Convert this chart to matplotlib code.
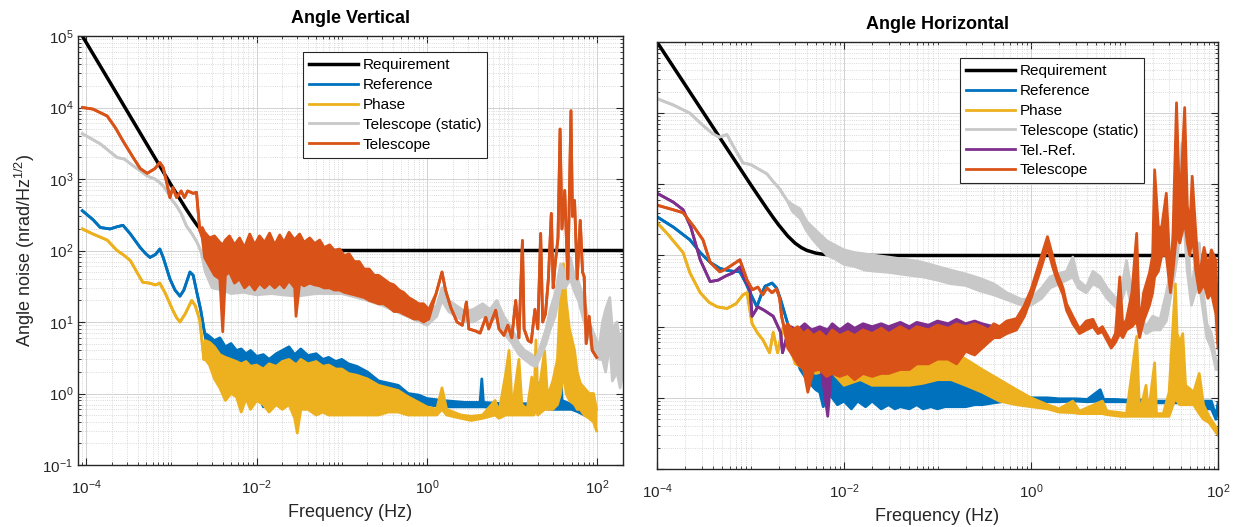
import numpy as np
import matplotlib
matplotlib.use('Agg')
import matplotlib.pyplot as plt
from matplotlib.ticker import LogLocator, NullFormatter, LogFormatterSciNotation

plt.rcParams['font.family'] = ['Liberation Sans', 'DejaVu Sans']
plt.rcParams['mathtext.fontset'] = 'custom'
plt.rcParams['mathtext.rm'] = 'Liberation Sans'
plt.rcParams['mathtext.it'] = 'Liberation Sans:italic'

# MATLAB default colours
c_req = 'black'
c_ref = '#0072BD'
c_pha = '#EDB120'
c_sta = '#C8C8C8'
c_trf = '#7E2F8E'
c_tel = '#D95319'

# ---------------- Angle Vertical ----------------
reqV_f = [9e-5, 2e-4, 5e-4, 1e-3, 1.25e-3, 1.5e-3, 1.75e-3, 2e-3, 2.5e-3, 3e-3, 3.5e-3, 4e-3, 5e-3, 6e-3, 7e-3, 1e-2, 200]
reqV_v = [1e5, 2.03e4, 3.24e3, 810, 529, 374, 283, 226, 164, 135, 120, 112, 105, 102.5, 101, 100, 100]

# rows: frequency (Hz), upper, lower
refV = [
    [9e-5, 360, 360], [1.2e-4, 270, 270], [1.46e-4, 210, 210], [1.9e-4, 200, 200],
    [2.3e-4, 215, 215], [2.7e-4, 225, 225], [3.3e-4, 170, 170], [4.3e-4, 110, 110],
    [5e-4, 90, 90], [5.6e-4, 80, 80], [6.5e-4, 88, 88], [7.3e-4, 105, 105],
    [8e-4, 80, 80], [9.6e-4, 40, 40], [1.1e-3, 28, 28], [1.26e-3, 23, 23],
    [1.4e-3, 28, 28], [1.65e-3, 50, 50], [1.8e-3, 45, 45], [2.0e-3, 25, 25],
    [2.2e-3, 15, 15], [2.45e-3, 7, 7],
    [2.7e-3, 6.5, 3.5], [3.2e-3, 5.5, 2.5], [3.7e-3, 6, 2.2], [4.3e-3, 4.5, 1.8],
    [5e-3, 5, 1.5], [5.8e-3, 4, 1.4], [6.6e-3, 4.2, 0.6], [7.5e-3, 3.6, 1.3],
    [8.5e-3, 4, 1.2], [1e-2, 3.3, 1.1], [1.2e-2, 3.5, 0.65], [1.4e-2, 3.0, 1.1],
    [1.7e-2, 3.6, 1.0], [2e-2, 4.0, 1.0], [2.4e-2, 4.5, 1.0], [2.8e-2, 3.5, 0.9],
    [3.3e-2, 4.2, 1.0], [4e-2, 3.4, 0.95], [5e-2, 3.6, 0.9], [6e-2, 3.0, 0.9],
    [7e-2, 3.2, 0.85], [8.5e-2, 2.8, 0.85], [0.1, 3.0, 0.8], [0.12, 2.6, 0.8],
    [0.15, 2.4, 0.75], [0.2, 2.0, 0.75], [0.27, 1.5, 0.75], [0.35, 1.4, 0.7],
    [0.46, 1.3, 0.7], [0.6, 1.0, 0.7], [0.8, 0.95, 0.7], [1.0, 0.85, 0.7],
    [1.5, 0.8, 0.65], [2.8, 0.75, 0.65], [4.2, 0.75, 0.65], [4.4, 1.6, 0.65],
    [4.6, 0.75, 0.65], [8, 0.72, 0.62], [12, 0.72, 0.62], [19, 0.72, 0.62],
    [20, 1.4, 0.62], [21, 0.72, 0.62], [30, 0.7, 0.6], [36, 0.8, 0.6],
    [37, 2.5, 0.6], [38.5, 0.8, 0.6], [50, 0.7, 0.6], [60, 0.64, 0.55], [70, 0.6, 0.5],
]

phaV = [
    [9e-5, 200, 200], [1.2e-4, 170, 170], [1.76e-4, 140, 140], [2.3e-4, 100, 100],
    [2.8e-4, 85, 85], [3.3e-4, 72, 72], [4e-4, 48, 48], [4.6e-4, 36, 36],
    [5.5e-4, 35, 35], [6.5e-4, 33, 33], [7.3e-4, 35, 35], [8.5e-4, 25, 25],
    [1.04e-3, 14.5, 14.5], [1.15e-3, 11.5, 11.5], [1.26e-3, 10, 10], [1.45e-3, 13, 13],
    [1.73e-3, 20, 20], [1.9e-3, 17, 17], [2.15e-3, 10.7, 10.7], [2.3e-3, 5, 5],
    [2.4e-3, 3, 3],
    [2.5e-3, 5.5, 3], [2.8e-3, 5.2, 2.5], [3.2e-3, 4.5, 1.6], [3.7e-3, 3.5, 1.2],
    [4.3e-3, 3.2, 0.8], [5e-3, 3.0, 1.0], [5.8e-3, 2.8, 0.9], [6.6e-3, 2.6, 0.55],
    [7.5e-3, 2.8, 0.85], [8.5e-3, 2.4, 0.6], [1e-2, 2.5, 0.8], [1.2e-2, 2.2, 0.7],
    [1.4e-2, 2.6, 0.55], [1.7e-2, 2.4, 0.7], [2e-2, 2.8, 0.6], [2.4e-2, 3.0, 0.7],
    [2.8e-2, 2.6, 0.45], [3.0e-2, 2.6, 0.28], [3.3e-2, 3.0, 0.6], [4e-2, 2.6, 0.6],
    [5e-2, 2.8, 0.5], [6e-2, 2.4, 0.55], [7e-2, 2.5, 0.5], [8.5e-2, 2.2, 0.5],
    [0.1, 2.2, 0.5], [0.12, 1.9, 0.5], [0.15, 1.8, 0.5], [0.2, 1.6, 0.5],
    [0.27, 1.3, 0.5], [0.35, 1.2, 0.55], [0.46, 1.1, 0.55], [0.6, 0.9, 0.5],
    [0.8, 0.75, 0.5], [1.0, 0.65, 0.5],
    [1.3, 0.6, 0.5], [1.5, 1.2, 0.6], [1.7, 0.6, 0.5], [2.5, 0.5, 0.45],
    [3.3, 0.48, 0.42], [4.5, 0.5, 0.45], [6.3, 0.8, 0.5], [7, 0.55, 0.45],
    [8.4, 1.9, 0.5], [9.2, 4, 0.5], [10, 0.6, 0.5], [12, 3, 0.5], [13, 0.7, 0.5],
    [15, 0.6, 0.5], [17, 1.7, 0.5], [18, 0.7, 0.5], [19, 5.6, 0.6], [20, 0.8, 0.5],
    [24, 4, 0.6], [26, 0.9, 0.6], [30, 1.5, 0.6], [34, 3, 0.7], [37, 27, 1],
    [40, 65, 2], [43, 20, 1], [47, 8, 0.8], [54, 4, 0.7], [58, 2, 0.6],
    [63, 1.4, 0.6], [70, 1.2, 0.5], [80, 1.0, 0.45], [90, 1.0, 0.4], [98, 0.6, 0.3],
]

staV = [
    [9e-5, 4300, 4300], [1.46e-4, 3100, 3100], [2.3e-4, 2000, 2000], [2.8e-4, 1900, 1900],
    [3.5e-4, 1550, 1550], [4.3e-4, 1300, 1300], [5.2e-4, 1100, 1100], [6.4e-4, 1000, 1000],
    [7.3e-4, 890, 890], [8e-4, 800, 800], [9e-4, 650, 650], [1.0e-3, 520, 520],
    [1.15e-3, 420, 420], [1.3e-3, 330, 330], [1.5e-3, 220, 220], [1.75e-3, 170, 170],
    [2.0e-3, 130, 130], [2.2e-3, 100, 100],
    [2.5e-3, 90, 50], [3e-3, 70, 30], [4e-3, 75, 28], [5e-3, 65, 25], [7e-3, 70, 26],
    [1e-2, 60, 24], [1.5e-2, 65, 25], [2e-2, 60, 24], [3e-2, 60, 23], [5e-2, 55, 25],
    [7e-2, 50, 25], [0.1, 45, 25], [0.15, 40, 22], [0.2, 35, 20], [0.3, 30, 17],
    [0.5, 22, 13], [0.7, 17, 11], [1.0, 14, 9], [1.3, 17, 12], [1.5, 30, 20],
    [1.8, 20, 14], [2.2, 17, 12], [2.8, 14, 10], [3.5, 15, 10], [4.5, 18, 12],
    [5.5, 15, 10], [6.6, 20, 12], [8, 12, 7], [10, 8, 5], [12, 5, 3.5], [14, 4, 3],
    [17, 3.5, 2.5], [19, 3, 2.4], [22, 5, 3.5], [25, 8, 5], [28, 15, 8], [32, 25, 12],
    [37, 65, 30], [42, 50, 30], [48, 80, 40], [55, 40, 25], [60, 37, 20], [70, 20, 10],
    [80, 10, 6], [90, 7, 4], [105, 4.5, 3], [115, 10, 3], [125, 15, 2], [140, 22, 5],
    [150, 8, 1.5], [170, 10, 2], [185, 5, 1.2], [200, 8, 2],
]

telV = [
    [9e-5, 1e4, 1e4], [1.2e-4, 9.5e3, 9.5e3], [1.76e-4, 7.6e3, 7.6e3], [2.2e-4, 5.2e3, 5.2e3],
    [2.7e-4, 3.4e3, 3.4e3], [3.55e-4, 2e3, 2e3], [4.3e-4, 1.4e3, 1.4e3], [5.2e-4, 1.2e3, 1.2e3],
    [6.4e-4, 1.4e3, 1.4e3], [7.3e-4, 1.7e3, 1.7e3], [8e-4, 1.45e3, 1.45e3], [8.8e-4, 890, 890],
    [9.6e-4, 550, 550], [1.04e-3, 760, 760], [1.15e-3, 550, 550], [1.3e-3, 680, 680],
    [1.42e-3, 550, 550], [1.55e-3, 680, 680], [1.8e-3, 630, 630], [1.97e-3, 650, 650],
    [2.15e-3, 190, 190],
    [2.3e-3, 210, 150], [2.45e-3, 180, 80], [2.8e-3, 150, 60], [3.2e-3, 160, 45],
    [3.7e-3, 130, 40], [4.0e-3, 120, 7.3], [4.3e-3, 140, 45], [4.8e-3, 160, 50],
    [5.5e-3, 120, 35], [6.3e-3, 150, 40], [7.2e-3, 110, 30], [8.3e-3, 170, 35],
    [9.5e-3, 120, 28], [1.08e-2, 160, 35], [1.24e-2, 130, 30], [1.42e-2, 175, 35],
    [1.63e-2, 120, 30], [1.87e-2, 165, 35], [2.1e-2, 130, 30], [2.4e-2, 180, 38],
    [2.8e-2, 140, 30], [2.9e-2, 150, 12], [3.2e-2, 170, 35], [3.6e-2, 130, 32],
    [4.2e-2, 150, 35], [4.8e-2, 125, 33], [5.5e-2, 140, 32], [6.2e-2, 110, 30],
    [7.2e-2, 120, 30], [8.2e-2, 100, 28], [9.4e-2, 105, 28], [0.107, 85, 26],
    [0.122, 90, 25], [0.14, 70, 24], [0.16, 70, 23], [0.183, 55, 22], [0.21, 55, 20],
    [0.24, 45, 19], [0.27, 45, 18], [0.31, 40, 18], [0.36, 35, 16], [0.41, 33, 14],
    [0.47, 28, 14], [0.53, 26, 13], [0.61, 22, 12], [0.7, 20, 11], [0.8, 18, 11],
    [0.91, 18, 10], [1.05, 15, 11],
    [1.28, 25, 25], [1.5, 50, 50], [1.65, 28, 28], [1.9, 16, 16], [2.25, 10, 10],
    [2.6, 9, 9], [2.9, 19, 19], [3.1, 8, 8], [3.7, 7.5, 7.5], [4.2, 7, 7],
    [4.9, 11.6, 11.6], [5.3, 8, 8], [6.4, 14.6, 14.6], [7.0, 8, 8], [8.0, 6.5, 6.5],
    [8.9, 9, 9], [9.9, 6, 6], [11, 20, 20], [12, 6, 6], [13.2, 138, 138], [13.8, 8, 8],
    [15.4, 5.5, 5.5], [16.7, 5.2, 5.2], [18.5, 15, 15], [20, 8, 8], [21.6, 173, 173],
    [22.8, 10, 10], [24.6, 13, 13], [26.6, 40, 40], [28.8, 330, 330], [30.3, 30, 30],
    [32, 65, 65], [34.5, 150, 150], [36.5, 5000, 5000], [38.4, 200, 200], [41.4, 690, 690],
    [45, 40, 40], [49, 9000, 9000], [51, 300, 300], [54, 500, 500], [58, 40, 40],
    [63, 263, 263], [67, 50, 50], [70, 43, 43], [74, 5, 5], [80, 12, 12], [87, 4, 4],
    [98, 3.2, 3.2],
]

# ---------------- Angle Horizontal ----------------
reqH_f = [1e-4, 2e-4, 5e-4, 1e-3, 1.25e-3, 1.5e-3, 1.75e-3, 2e-3, 2.5e-3, 3e-3, 3.5e-3, 4e-3, 5e-3, 6e-3, 7e-3, 1e-2, 100]
reqH_v = [1e5, 2.5e4, 4e3, 1e3, 648, 455, 341, 269, 188, 149, 129, 118, 108, 104, 102, 100, 100]

refH = [
    [1e-4, 350, 350], [1.5e-4, 250, 250], [2.25e-4, 166, 166], [2.9e-4, 110, 110],
    [3.7e-4, 80, 80], [4.7e-4, 66, 66], [5.6e-4, 62, 62], [6.5e-4, 60, 60],
    [7.7e-4, 59, 59], [9e-4, 40, 40], [9.9e-4, 30, 30], [1.17e-3, 19, 19],
    [1.3e-3, 28, 28], [1.43e-3, 37, 37], [1.7e-3, 41, 41], [1.9e-3, 35, 35],
    [2.1e-3, 24, 24], [2.45e-3, 12, 12], [2.6e-3, 9.3, 9.3],
    [2.8e-3, 8.3, 5], [3.1e-3, 6, 3.5], [3.4e-3, 5, 2.5], [3.8e-3, 3.5, 2.0],
    [4.3e-3, 3.8, 1.6], [5e-3, 2.8, 1.3], [5.5e-3, 3.2, 1.2], [6e-3, 2.5, 0.75],
    [6.7e-3, 2.8, 1.2], [7.5e-3, 2.4, 1.0], [8.5e-3, 2.6, 0.8], [1e-2, 2.2, 0.9],
    [1.2e-2, 2.4, 0.7], [1.4e-2, 2.0, 0.9], [1.7e-2, 2.3, 0.75], [2e-2, 2.0, 0.9],
    [2.5e-2, 2.2, 0.7], [3e-2, 1.9, 0.8], [3.5e-2, 2.1, 0.7], [4e-2, 1.8, 0.75],
    [5e-2, 2.0, 0.7], [6e-2, 1.8, 0.8], [7e-2, 2.0, 0.7], [8.5e-2, 1.8, 0.75],
    [0.1, 1.9, 0.7], [0.12, 1.7, 0.75], [0.15, 1.9, 0.75], [0.2, 1.7, 0.75],
    [0.25, 1.6, 0.8], [0.3, 1.5, 0.8], [0.4, 1.3, 0.85], [0.55, 1.15, 0.9],
    [0.7, 1.1, 0.9], [1.0, 1.0, 0.9],
    [1.5, 1.0, 0.88], [2, 0.97, 0.88], [3, 0.97, 0.9], [4, 0.95, 0.88], [5.5, 1.3, 0.9],
    [6, 0.95, 0.88], [8, 0.95, 0.88], [10, 0.93, 0.88], [15, 0.93, 0.85], [20, 0.9, 0.85],
    [30, 0.9, 0.85], [35, 1.5, 0.85], [38, 0.95, 0.85], [45, 0.95, 0.85], [50, 1.15, 0.85],
    [55, 0.95, 0.8], [70, 0.9, 0.7], [85, 0.9, 0.7], [95, 0.55, 0.5], [100, 0.85, 0.7],
]

phaH = [
    [1e-4, 290, 290], [1.3e-4, 200, 200], [1.9e-4, 110, 110], [2.25e-4, 57, 57],
    [2.9e-4, 30, 30], [3.6e-4, 22, 22], [4.4e-4, 19, 19], [5.6e-4, 18, 18],
    [7e-4, 21, 21], [8.3e-4, 28, 28], [9.2e-4, 30, 30], [1.0e-3, 15, 15],
    [1.04e-3, 11, 11], [1.2e-3, 8, 8], [1.35e-3, 6.6, 6.6], [1.6e-3, 4.3, 4.3],
    [1.75e-3, 8.3, 8.3], [1.95e-3, 4.3, 4.3], [2.2e-3, 9.3, 9.3], [2.5e-3, 6.6, 6.6],
    [3e-3, 6, 3], [4e-3, 5, 2.5], [5e-3, 5, 2.2], [7e-3, 5, 2.5], [1e-2, 5, 1.5],
    [1.5e-2, 4.5, 1.8], [2e-2, 5, 1.5], [3e-2, 4.5, 1.5], [5e-2, 5, 1.5],
    [7e-2, 5.5, 1.6], [0.1, 5, 1.8], [0.14, 4.7, 1.8], [0.2, 3.5, 1.5],
    [0.3, 2.5, 1.2], [0.46, 1.8, 0.9], [0.7, 1.3, 0.8], [1.0, 1.0, 0.75],
    [1.5, 0.8, 0.7], [2.0, 0.7, 0.63], [2.8, 0.9, 0.62], [3.3, 0.65, 0.6],
    [5.8, 0.9, 0.6], [6.5, 0.65, 0.58], [9, 0.62, 0.55], [10.5, 0.6, 0.55],
    [13.5, 7.3, 0.55], [14.5, 0.6, 0.55], [17, 1.5, 0.55], [18, 0.6, 0.55],
    [21, 3.1, 0.55], [22, 0.6, 0.55], [26, 0.6, 0.55], [30, 1.2, 0.55], [35, 40, 1],
    [36.5, 8, 0.9], [39, 6, 0.8], [42, 8, 0.8], [45, 1.5, 0.8], [55, 1.2, 0.8],
    [63, 2.2, 0.6], [70, 0.8, 0.5], [80, 0.55, 0.45], [100, 0.35, 0.3],
]

staH = [
    [1e-4, 1.6e4, 1.6e4], [1.5e-4, 1.3e4, 1.3e4], [2.25e-4, 1e4, 1e4], [3e-4, 7e3, 7e3],
    [3.9e-4, 5.2e3, 5.2e3], [4.6e-4, 4.6e3, 4.6e3], [5.6e-4, 5e3, 5e3], [6.5e-4, 3.5e3, 3.5e3],
    [8.3e-4, 2e3, 2e3], [1e-3, 1.9e3, 1.9e3], [1.26e-3, 1.6e3, 1.6e3], [1.5e-3, 1.4e3, 1.4e3],
    [1.74e-3, 1.1e3, 1.1e3], [2.0e-3, 900, 900], [2.45e-3, 600, 600],
    [2.8e-3, 520, 420], [3.4e-3, 450, 330], [4e-3, 300, 220], [4.6e-3, 250, 170],
    [5.5e-3, 200, 130], [6.6e-3, 160, 100], [8e-3, 140, 90], [1e-2, 120, 75],
    [1.3e-2, 110, 70], [1.7e-2, 105, 62], [2.2e-2, 100, 60], [3e-2, 95, 58],
    [4e-2, 90, 55], [5.5e-2, 85, 52], [7e-2, 80, 50], [0.1, 70, 45], [0.14, 62, 40],
    [0.2, 55, 38], [0.28, 48, 32], [0.4, 40, 28], [0.55, 30, 24], [0.8, 24, 20],
    [1.0, 25, 20], [1.3, 35, 25], [1.6, 50, 35], [2.0, 56, 40], [2.4, 60, 45],
    [2.8, 95, 50], [3.2, 45, 35], [3.9, 36, 30], [4.6, 60, 40], [5.5, 50, 35],
    [6.5, 35, 25], [8.3, 24, 18], [9.5, 40, 25], [10.5, 85, 40], [12, 30, 18],
    [14, 18, 12], [17, 10, 8], [20, 14, 9], [24, 12.7, 9], [28, 30, 12], [33, 85, 40],
    [37, 300, 100], [41, 3800, 600], [43, 760, 300], [47, 200, 60], [52, 30, 20],
    [57, 80, 30], [63, 150, 40], [70, 30, 15], [76, 11, 7], [85, 8, 5], [95, 3.4, 2.5],
    [100, 3.0, 2.5],
]

trfH = [
    [1e-4, 750, 750], [1.5e-4, 560, 560], [1.9e-4, 440, 440], [2.3e-4, 250, 250],
    [2.9e-4, 87, 87], [3.7e-4, 43, 43], [4.5e-4, 45, 45], [5.5e-4, 52, 52],
    [6.5e-4, 57, 57], [7.7e-4, 69, 69], [8.5e-4, 50, 50], [9.9e-4, 33, 33],
    [1.04e-3, 14, 14], [1.2e-3, 19, 19], [1.4e-3, 17, 17], [1.75e-3, 14, 14],
    [2.1e-3, 8.3, 8.3], [2.2e-3, 4.3, 4.3], [2.4e-3, 6.6, 6.6],
    [2.7e-3, 10, 5], [3.2e-3, 9, 5], [3.8e-3, 11, 4.5], [4.5e-3, 9, 4],
    [5.5e-3, 10, 3.5], [6.7e-3, 9, 0.55], [7.5e-3, 11, 3.5], [9e-3, 9, 3.4],
    [1.1e-2, 11, 4], [1.3e-2, 9.5, 3.5], [1.6e-2, 11, 4], [2e-2, 10, 3.6],
    [2.5e-2, 11, 4], [3e-2, 10, 3.5], [4e-2, 11.5, 4], [5e-2, 10, 3.8],
    [6e-2, 11.5, 4], [8e-2, 10.5, 4], [0.1, 12, 4], [0.13, 11, 4.5],
    [0.16, 12.7, 4.5], [0.2, 11, 5], [0.25, 12, 5], [0.3, 11, 6], [0.4, 10, 7],
]

telH = [
    [1e-4, 510, 510], [1.4e-4, 450, 450], [1.9e-4, 400, 400], [2.5e-4, 250, 250],
    [3.1e-4, 166, 166], [3.7e-4, 80, 80], [4.7e-4, 59, 59], [5.5e-4, 65, 65],
    [6.5e-4, 75, 75], [7.7e-4, 87, 87], [9.2e-4, 45, 45], [1.05e-3, 33, 33],
    [1.2e-3, 36, 36], [1.35e-3, 28, 28], [1.5e-3, 35, 35], [1.7e-3, 30, 30],
    [1.9e-3, 34, 34], [2.05e-3, 25, 25], [2.15e-3, 14, 14], [2.3e-3, 9.3, 9.3],
    [2.5e-3, 11, 5], [2.8e-3, 9, 4], [3.2e-3, 10, 3], [3.7e-3, 8, 2.5],
    [4.1e-3, 9, 1.2], [4.7e-3, 7.5, 2.4], [5.5e-3, 8.5, 2.5], [6.5e-3, 7, 2],
    [7.5e-3, 9, 2.2], [9e-3, 7.5, 2], [1.1e-2, 8.5, 2.2], [1.3e-2, 7.5, 1.8],
    [1.6e-2, 9, 2.2], [2e-2, 8, 2], [2.5e-2, 9.5, 2.2], [3e-2, 8, 2.2],
    [4e-2, 10, 2.5], [5e-2, 8.5, 2.5], [6e-2, 10, 3], [8e-2, 9, 3],
    [0.1, 10.5, 3.5], [0.13, 9.5, 3.5], [0.16, 11, 3], [0.2, 10, 4.5],
    [0.25, 11, 4], [0.3, 10, 5], [0.35, 9, 6], [0.4, 11, 7], [0.46, 10, 7],
    [0.55, 12, 8], [0.7, 13, 9], [0.85, 20, 14],
    [1.0, 33, 25], [1.25, 85, 60], [1.5, 184, 130], [1.7, 100, 70], [1.9, 57, 45],
    [2.2, 35, 28], [2.4, 21, 17], [2.8, 14, 11], [3.3, 9.3, 8], [3.9, 12, 9],
    [4.6, 12.7, 10], [5.2, 9, 8], [5.8, 10, 8.5], [7.2, 6, 5], [8.0, 8, 6],
    [8.9, 50, 8], [9.6, 10, 7], [10.5, 12.7, 9], [12, 30, 10], [13.5, 205, 12],
    [14.5, 10, 7], [16, 30, 12], [18.5, 57, 20], [20, 100, 30], [21, 1600, 50],
    [23, 250, 60], [25, 250, 100], [28, 750, 100], [31, 50, 30], [33, 200, 60],
    [36, 14000, 200], [39, 440, 150], [44, 12000, 300], [47, 500, 150], [50, 250, 100],
    [53, 1300, 200], [58, 200, 60], [63, 50, 30], [71, 130, 40], [78, 70, 25],
    [85, 120, 30], [95, 85, 15], [100, 6, 5],
]


def draw(ax, rows, color, label, lw=2.0, z=2):
    f, hi, lo = np.asarray(rows, dtype=float).T
    ax.fill_between(f, lo, hi, color=color, lw=0, zorder=z)
    ax.plot(f, lo, color=color, lw=lw, zorder=z)
    return ax.plot(f, hi, color=color, lw=lw, zorder=z, label=label)[0]


def style(ax, xlim):
    ax.set_xscale('log')
    ax.set_yscale('log')
    ax.set_xlim(*xlim)
    ax.set_ylim(1e-1, 1e5)
    ax.set_xticks([1e-4, 1e-2, 1e0, 1e2])
    ax.set_yticks([1e-1, 1e0, 1e1, 1e2, 1e3, 1e4, 1e5])
    ax.xaxis.set_major_formatter(LogFormatterSciNotation())
    ax.yaxis.set_major_formatter(LogFormatterSciNotation())
    ax.xaxis.set_minor_locator(LogLocator(base=10, subs=np.arange(1, 10), numticks=100))
    ax.yaxis.set_minor_locator(LogLocator(base=10, subs=np.arange(1, 10), numticks=100))
    ax.xaxis.set_minor_formatter(NullFormatter())
    ax.yaxis.set_minor_formatter(NullFormatter())
    ax.grid(True, which='major', color='#d2d2d2', lw=0.7, zorder=0)
    ax.grid(True, which='minor', color='#cdcdcd', lw=0.6, ls=':', zorder=0)
    ax.set_axisbelow(True)
    ax.tick_params(which='both', direction='in', top=True, right=True, colors='#262626')
    ax.tick_params(which='major', length=5, width=0.8, labelsize=11)
    ax.tick_params(which='minor', length=2.5, width=0.6)
    ax.tick_params(axis='x', which='major', pad=10)
    for s in ax.spines.values():
        s.set_color('#262626')
        s.set_linewidth(1.0)
    ax.set_xlabel('Frequency (Hz)', fontsize=13, color='#262626', labelpad=5)


fig = plt.figure(figsize=(12.36, 5.27), dpi=100)
ax1 = fig.add_axes([78 / 1236, 1 - 465 / 527, 545 / 1236, 429 / 527])
ax2 = fig.add_axes([657 / 1236, 1 - 469 / 527, 561 / 1236, 427 / 527])

# left panel
h = []
h.append(ax1.plot(reqV_f, reqV_v, color=c_req, lw=2.5, zorder=2, label='Requirement')[0])
h.append(draw(ax1, refV, c_ref, 'Reference'))
h.append(draw(ax1, phaV, c_pha, 'Phase'))
h.append(draw(ax1, staV, c_sta, 'Telescope (static)'))
h.append(draw(ax1, telV, c_tel, 'Telescope'))
style(ax1, (8e-5, 200))
ax1.set_ylabel('Angle noise (nrad/Hz$^{1/2}$)', fontsize=13, color='#262626')
ax1.set_title('Angle Vertical', fontsize=13, fontweight='bold', pad=9)
leg = ax1.legend(handles=h, loc='upper left', bbox_to_anchor=(0.413, 0.962),
                 borderaxespad=0, fontsize=11, handlelength=3.2, handletextpad=0.3,
                 labelspacing=0.38, fancybox=False, framealpha=1, edgecolor='#262626')
leg.get_frame().set_linewidth(0.8)

# right panel
h = []
h.append(ax2.plot(reqH_f, reqH_v, color=c_req, lw=2.5, zorder=2, label='Requirement')[0])
h.append(draw(ax2, refH, c_ref, 'Reference'))
h.append(draw(ax2, phaH, c_pha, 'Phase'))
h.append(draw(ax2, staH, c_sta, 'Telescope (static)'))
h.append(draw(ax2, trfH, c_trf, 'Tel.-Ref.'))
h.append(draw(ax2, telH, c_tel, 'Telescope'))
style(ax2, (1e-4, 100))
ax2.tick_params(labelleft=False)
ax2.set_title('Angle Horizontal', fontsize=13, fontweight='bold', pad=9)
leg = ax2.legend(handles=h, loc='upper left', bbox_to_anchor=(0.540, 0.962),
                 borderaxespad=0, fontsize=11, handlelength=3.2, handletextpad=0.3,
                 labelspacing=0.38, fancybox=False, framealpha=1, edgecolor='#262626')
leg.get_frame().set_linewidth(0.8)

fig.savefig('out.png', dpi=100)
